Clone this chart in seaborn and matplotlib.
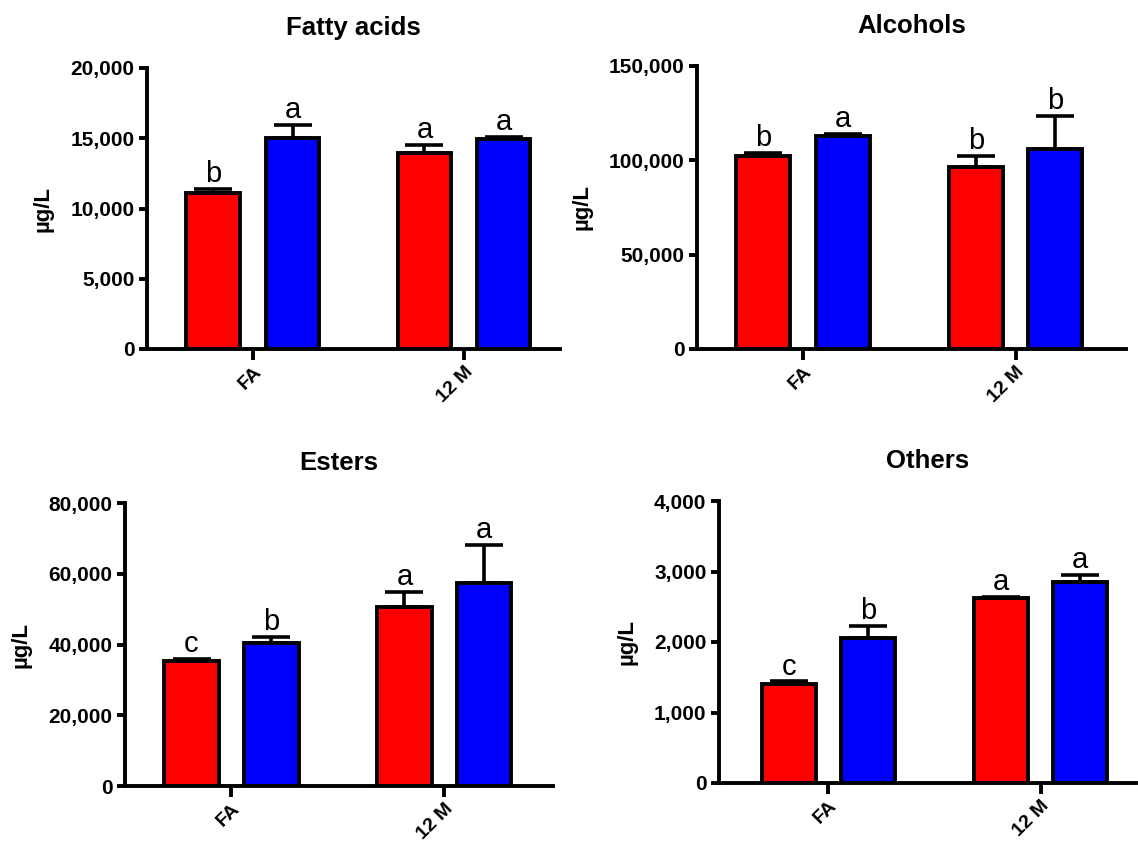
#!/usr/bin/env python3
"""
Volatile compound classes (ug/L) at FA and 12 M, two treatments.
Four-panel bar chart with upward SD bars and significance letters.
"""

import pandas as pd
import numpy as np
import matplotlib.pyplot as plt
import seaborn as sns
from matplotlib.ticker import FuncFormatter, MultipleLocator

# Categories and treatment levels
categories = ['FA', '12 M']
treatments = ['Treatment 1', 'Treatment 2']

# Fatty acids
fatty_red = [11100, 13930]
fatty_red_err = [270, 570]
fatty_blue = [15040, 14920]
fatty_blue_err = [880, 170]
fatty_letters = [['b', 'a'], ['a', 'a']]

# Alcohols
alc_red = [102500, 96700]
alc_red_err = [1300, 5500]
alc_blue = [112800, 106000]
alc_blue_err = [1000, 17500]
alc_letters = [['b', 'b'], ['a', 'b']]

# Esters
est_red = [35400, 50500]
est_red_err = [400, 4300]
est_blue = [40300, 57300]
est_blue_err = [1900, 10800]
est_letters = [['c', 'a'], ['b', 'a']]

# Others
oth_red = [1405, 2618]
oth_red_err = [35, 25]
oth_blue = [2052, 2858]
oth_blue_err = [180, 95]
oth_letters = [['c', 'a'], ['b', 'a']]

sns.set_theme(style='ticks')
plt.rcParams.update({
    'font.family': ['Liberation Sans', 'DejaVu Sans'],
    'axes.linewidth': 2.8,
    'xtick.major.width': 2.8,
    'ytick.major.width': 2.8,
    'xtick.major.size': 6,
    'ytick.major.size': 6,
    'xtick.color': 'black',
    'ytick.color': 'black',
    'axes.edgecolor': 'black',
    'text.color': 'black',
    'axes.labelcolor': 'black',
})

COLORS = ['#FF0000', '#0000FF']


def build_frame(red, blue):
    """Long-format table for seaborn"""
    rows = []
    for cat, v in zip(categories, red):
        rows.append({'Time': cat, 'Treatment': treatments[0], 'Value': v})
    for cat, v in zip(categories, blue):
        rows.append({'Time': cat, 'Treatment': treatments[1], 'Value': v})
    return pd.DataFrame(rows)


def draw_panel(ax, title, red, red_err, blue, blue_err, letters, ymax, step, xlim):
    df = build_frame(red, blue)
    sns.barplot(data=df, x='Time', y='Value', hue='Treatment', order=categories,
                hue_order=treatments, palette=COLORS, width=0.75, gap=0.32,
                edgecolor='black', linewidth=2.8, errorbar=None, legend=False,
                saturation=1, ax=ax, zorder=3)

    errs = [red_err, blue_err]
    bar_containers = list(ax.containers)
    for k, container in enumerate(bar_containers):
        xs = [p.get_x() + p.get_width() / 2 for p in container.patches]
        ys = [p.get_height() for p in container.patches]
        ax.errorbar(xs, ys, yerr=[np.zeros(len(ys)), errs[k]], fmt='none',
                    ecolor='black', elinewidth=2.6, capsize=13.5, capthick=2.6,
                    zorder=2)
        for x, y, e, lab in zip(xs, ys, errs[k], letters[k]):
            ax.annotate(lab, (x, y + e), xytext=(0, 5), textcoords='offset points',
                        ha='center', va='baseline', fontsize=21, color='black')

    ax.set_ylim(0, ymax)
    ax.set_xlim(*xlim)
    ax.yaxis.set_major_locator(MultipleLocator(step))
    ax.yaxis.set_major_formatter(FuncFormatter(lambda v, p: f"{v:,.0f}"))
    sns.despine(ax=ax)
    ax.set_xlabel('')
    ax.set_ylabel('\u00b5g/L', fontsize=16, fontweight='bold', labelpad=12)
    ax.set_title(title, fontsize=18.5, fontweight='bold', pad=24)
    ax.tick_params(axis='y', labelsize=15, direction='out', pad=3)
    ax.tick_params(axis='x', labelsize=14, direction='out', length=8, pad=2)
    for t in ax.get_yticklabels():
        t.set_fontweight('bold')
    ax.set_xticks(range(len(categories)))
    ax.set_xticklabels(categories, rotation=45, ha='right',
                       rotation_mode='anchor', fontweight='bold')
    ax.grid(False)


def main():
    fig = plt.figure(figsize=(11.38, 8.41), dpi=100)

    W, H = 1138, 841

    def add_axes(left, right, top, bottom):
        return fig.add_axes([left / W, 1 - bottom / H, (right - left) / W, (bottom - top) / H])

    ax1 = add_axes(147, 560, 68, 349)
    ax2 = add_axes(697, 1126, 66, 349)
    ax3 = add_axes(125, 553, 503, 786)
    ax4 = add_axes(719, 1136, 501, 783)

    draw_panel(ax1, 'Fatty acids', fatty_red, fatty_red_err, fatty_blue, fatty_blue_err,
               fatty_letters, 20000, 5000, (-0.502, 1.455))
    draw_panel(ax2, 'Alcohols', alc_red, alc_red_err, alc_blue, alc_blue_err,
               alc_letters, 150000, 50000, (-0.5, 1.52))
    draw_panel(ax3, 'Esters', est_red, est_red_err, est_blue, est_blue_err,
               est_letters, 80000, 20000, (-0.5, 1.51))
    draw_panel(ax4, 'Others', oth_red, oth_red_err, oth_blue, oth_blue_err,
               oth_letters, 4000, 1000, (-0.516, 1.45))

    fig.savefig('out.png', dpi=100, facecolor='white')
    plt.close(fig)


if __name__ == "__main__":
    main()
